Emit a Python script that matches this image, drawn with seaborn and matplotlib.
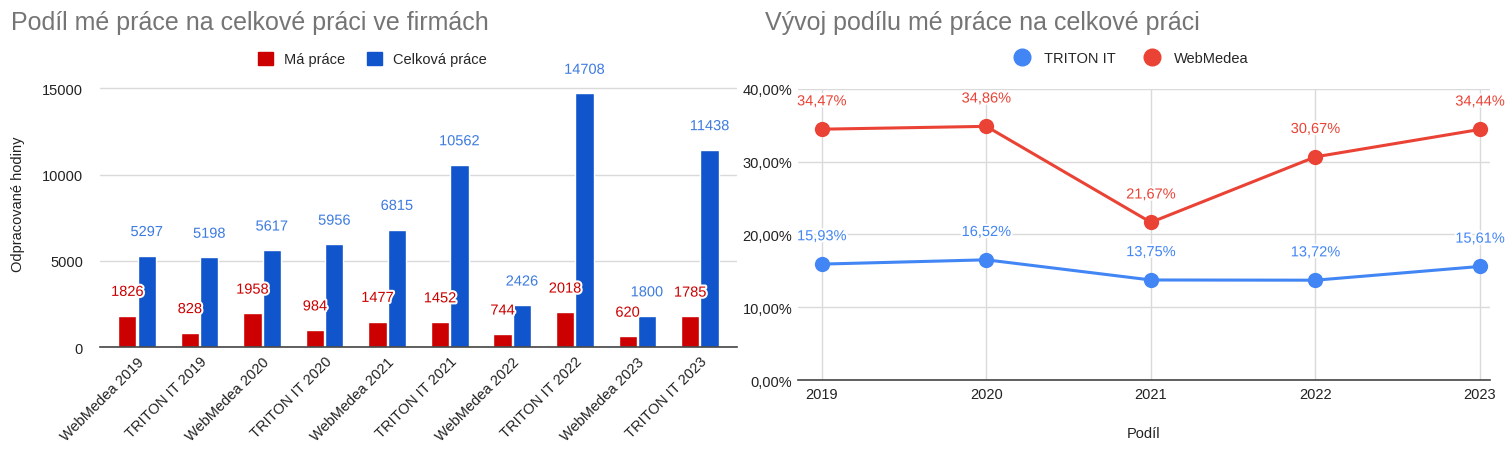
import numpy as np
import seaborn as sns
import pandas as pd
import matplotlib.pyplot as plt
import matplotlib.patheffects as pe
from matplotlib.lines import Line2D
from matplotlib.patches import Patch

# Bar chart data
categories = ["WebMedea 2019", "TRITON IT 2019", "WebMedea 2020", "TRITON IT 2020",
              "WebMedea 2021", "TRITON IT 2021", "WebMedea 2022", "TRITON IT 2022",
              "WebMedea 2023", "TRITON IT 2023"]
ma_prace = [1826, 828, 1958, 984, 1477, 1452, 744, 2018, 620, 1785]
celkova_prace = [5297, 5198, 5617, 5956, 6815, 10562, 2426, 14708, 1800, 11438]

# Line chart data (share in %)
years = [2019, 2020, 2021, 2022, 2023]
triton_share = [15.93, 16.52, 13.75, 13.72, 15.61]
webmedea_share = [34.47, 34.86, 21.67, 30.67, 34.44]

RED_BAR = "#CC0000"
BLUE_BAR = "#1155CC"
BLUE_LINE = "#4285F4"
RED_LINE = "#EA4335"
GRID = "#DADADA"

sns.set_theme(style="white")
plt.rcParams['font.family'] = ['Liberation Sans', 'DejaVu Sans']

fig = plt.figure(figsize=(15.08, 4.52), dpi=100)
ax1 = fig.add_axes([0.066, 0.230, 0.423, 0.637])
ax2 = fig.add_axes([0.529, 0.157, 0.459, 0.644])

# ---- left: bars
df = pd.DataFrame({
    "kategorie": categories * 2,
    "hodiny": ma_prace + celkova_prace,
    "serie": ["Má práce"] * len(categories) + ["Celková práce"] * len(categories),
})
sns.barplot(data=df, x="kategorie", y="hodiny", hue="serie",
            palette=[RED_BAR, BLUE_BAR], width=0.62, gap=0.06,
            saturation=1, legend=False, ax=ax1)

halo = [pe.withStroke(linewidth=3, foreground="white")]
for cont, col in zip(ax1.containers, [RED_BAR, "#3D7BE0"]):
    labels = ax1.bar_label(cont, labels=[str(int(v)) for v in cont.datavalues],
                           padding=12, color=col, fontsize=10.5)
    for t in labels:
        t.set_path_effects(halo)

ax1.set_ylim(0, 16700)
ax1.set_xlim(-0.6, 9.6)
ax1.set_yticks([0, 5000, 10000, 15000])
ax1.yaxis.grid(True, color=GRID, linewidth=1)
ax1.set_axisbelow(True)
for s in ["top", "right", "left"]:
    ax1.spines[s].set_visible(False)
ax1.spines["bottom"].set_color("#444444")
ax1.spines["bottom"].set_linewidth(1.2)
ax1.set_xlabel("")
ax1.set_ylabel("Odpracované hodiny", fontsize=10.5, color="#222222", labelpad=12)
ax1.tick_params(axis="y", labelsize=10.5, colors="#222222", length=0, pad=12)
ax1.tick_params(axis="x", length=0, pad=5)
plt.setp(ax1.get_xticklabels(), rotation=45, ha="right", rotation_mode="anchor",
         fontsize=10.5, color="#222222")

ax1.legend(handles=[Patch(color=RED_BAR, label="Má práce"),
                    Patch(color=BLUE_BAR, label="Celková práce")],
           loc="center", bbox_to_anchor=(0.428, 1.0), ncol=2, frameon=False,
           fontsize=10.5, handlelength=1.0, handleheight=1.0, columnspacing=1.5,
           handletextpad=0.8)

fig.text(0.007, 0.95, "Podíl mé práce na celkové práci ve firmách",
         fontsize=18, color="#757575", va="center", ha="left")

# ---- right: lines
ldf = pd.DataFrame({
    "rok": years * 2,
    "podil": triton_share + webmedea_share,
    "firma": ["TRITON IT"] * len(years) + ["WebMedea"] * len(years),
})
sns.lineplot(data=ldf, x="rok", y="podil", hue="firma",
             palette=[BLUE_LINE, RED_LINE], linewidth=2.2, marker="o",
             markersize=11, markeredgewidth=0, legend=False, ax=ax2)

for vals, col in [(triton_share, BLUE_LINE), (webmedea_share, RED_LINE)]:
    for x, v in zip(years, vals):
        t = ax2.annotate(f"{v:.2f}%".replace(".", ","), (x, v), xytext=(0, 15),
                         textcoords="offset points", ha="center", va="bottom",
                         color=col, fontsize=10.5)
        t.set_path_effects(halo)

ax2.set_xlim(2018.854, 2023.06)
ax2.set_ylim(0, 40)
ax2.set_xticks(years)
ax2.set_xticklabels([str(y) for y in years])
ax2.set_yticks([0, 10, 20, 30, 40])
ax2.set_yticklabels([f"{v:.2f}%".replace(".", ",") for v in [0, 10, 20, 30, 40]])
ax2.grid(True, color=GRID, linewidth=1)
ax2.set_axisbelow(True)
for s in ["top", "right", "left"]:
    ax2.spines[s].set_visible(False)
ax2.spines["bottom"].set_color("#444444")
ax2.spines["bottom"].set_linewidth(1.2)
ax2.tick_params(axis="both", labelsize=10.5, colors="#222222", length=0)
ax2.tick_params(axis="y", pad=4)
ax2.tick_params(axis="x", pad=5)
ax2.set_xlabel("Podíl", fontsize=10.5, color="#222222", labelpad=18)
ax2.set_ylabel("")

ax2.legend(handles=[Line2D([], [], marker="o", color=BLUE_LINE, linestyle="none",
                           markersize=12, label="TRITON IT"),
                    Line2D([], [], marker="o", color=RED_LINE, linestyle="none",
                           markersize=12, label="WebMedea")],
           loc="center", bbox_to_anchor=(0.477, 1.107), ncol=2, frameon=False,
           fontsize=10.5, handletextpad=0.5, columnspacing=1.5)

fig.text(0.507, 0.95, "Vývoj podílu mé práce na celkové práci",
         fontsize=18, color="#757575", va="center", ha="left")

fig.savefig("out.png", dpi=100, facecolor="white")
